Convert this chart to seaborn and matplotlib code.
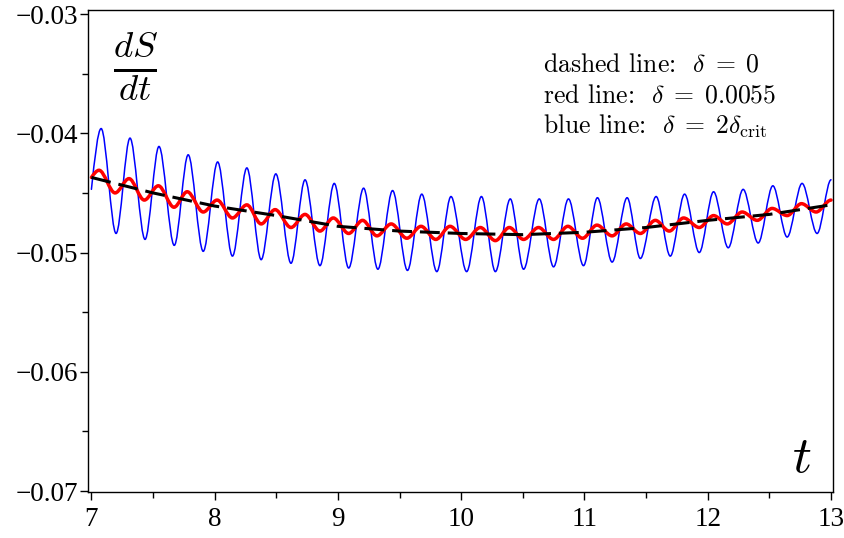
import matplotlib
matplotlib.use('Agg')
import matplotlib.pyplot as plt
from matplotlib.path import Path
from matplotlib.patches import PathPatch
from matplotlib.ticker import FuncFormatter
import seaborn as sns
import pandas as pd

# values
# blue line (delta = 2 delta_crit): start, then alternating peaks / troughs
blue_t = [7.00, 7.079, 7.200, 7.313, 7.435, 7.548, 7.672, 7.785, 7.907, 8.024,
          8.144, 8.261, 8.377, 8.496, 8.619, 8.733, 8.854, 8.970, 9.087, 9.208,
          9.324, 9.443, 9.564, 9.680, 9.802, 9.917, 10.044, 10.164, 10.277, 10.398,
          10.506, 10.633, 10.749, 10.870, 10.992, 11.105, 11.224, 11.346, 11.453, 11.581,
          11.696, 11.812, 11.931, 12.047, 12.166, 12.287, 12.409, 12.528, 12.644, 12.765,
          12.887, 13.00]
blue_y = [-0.0447, -0.0396, -0.0484, -0.0404, -0.0489, -0.0411, -0.0494, -0.0418, -0.0499, -0.0424,
          -0.0503, -0.0429, -0.0506, -0.0434, -0.0509, -0.0439, -0.0511, -0.0442, -0.0513, -0.0446,
          -0.0514, -0.0448, -0.0515, -0.0451, -0.0516, -0.0453, -0.0516, -0.0453, -0.0516, -0.0455,
          -0.0514, -0.0455, -0.0512, -0.0455, -0.0511, -0.0454, -0.0508, -0.0454, -0.0505, -0.0453,
          -0.0503, -0.0451, -0.0500, -0.0449, -0.0496, -0.0447, -0.0492, -0.0444, -0.0487, -0.0442,
          -0.0484, -0.0439]

# red line (delta = 0.0055): start, then alternating peaks / troughs
red_t = [7.00, 7.062, 7.192, 7.305, 7.429, 7.543, 7.670, 7.777, 7.907, 8.020,
         8.144, 8.261, 8.377, 8.490, 8.619, 8.733, 8.854, 8.962, 9.087, 9.200,
         9.316, 9.432, 9.559, 9.674, 9.794, 9.909, 10.036, 10.155, 10.277, 10.390,
         10.506, 10.627, 10.749, 10.865, 10.984, 11.101, 11.224, 11.338, 11.453, 11.575,
         11.688, 11.804, 11.931, 12.047, 12.158, 12.279, 12.401, 12.522, 12.644, 12.760,
         12.879, 13.00]
red_y = [-0.0437, -0.0431, -0.0450, -0.0438, -0.0456, -0.0444, -0.0462, -0.0449, -0.0466, -0.0456,
         -0.0471, -0.0460, -0.0476, -0.0464, -0.0479, -0.0468, -0.0482, -0.0471, -0.0484, -0.0473,
         -0.0486, -0.0476, -0.0488, -0.0478, -0.0489, -0.0478, -0.0489, -0.0479, -0.0490, -0.0479,
         -0.0489, -0.0479, -0.0489, -0.0478, -0.0488, -0.0477, -0.0486, -0.0476, -0.0484, -0.0473,
         -0.0482, -0.0471, -0.0479, -0.0469, -0.0476, -0.0466, -0.0473, -0.0463, -0.0469, -0.0459,
         -0.0466, -0.0456]

# dashed line (delta = 0)
trend_t = [7.0, 7.5, 8.0, 8.5, 9.0, 9.5, 10.0, 10.5, 11.0, 11.5, 12.0, 12.5, 13.0]
trend_y = [-0.0437, -0.0450, -0.0461, -0.0469, -0.0478, -0.0482, -0.0484, -0.0485, -0.0483,
           -0.0479, -0.0473, -0.0468, -0.0460]

x_major = [7, 8, 9, 10, 11, 12, 13]
x_minor = [7.5, 8.5, 9.5, 10.5, 11.5, 12.5]
y_major = [-0.07, -0.06, -0.05, -0.04, -0.03]
y_minor = [-0.065, -0.055, -0.045, -0.035]

legend_lines = [r'dashed line:  $\delta\;=\;0$',
                r'red line:  $\delta\;=\;0.0055$',
                r'blue line:  $\delta\;=\;2\delta_{\mathrm{crit}}$']

sns.set_style('ticks')
plt.rcParams['font.family'] = ['Liberation Serif', 'DejaVu Serif']
plt.rcParams['mathtext.fontset'] = 'cm'
plt.rcParams['text.color'] = 'black'


def wave(ax, t, y, color, lw):
    # smooth curve through the read extrema (flat tangents at each extremum)
    verts = [(t[0], y[0])]
    codes = [Path.MOVETO]
    for i in range(1, len(t)):
        dt = t[i] - t[i - 1]
        if i == 1:
            c1 = (t[0] + dt / 3, y[0] + 0.5 * (y[1] - y[0]))
        else:
            c1 = (t[i - 1] + dt / 3, y[i - 1])
        verts += [c1, (t[i] - dt / 3, y[i]), (t[i], y[i])]
        codes += [Path.CURVE4] * 3
    ax.add_patch(PathPatch(Path(verts, codes), fill=False, edgecolor=color,
                           lw=lw, capstyle='round', joinstyle='round', zorder=2))


fig = plt.figure(figsize=(8.45, 5.38), dpi=100)
ax = fig.add_axes([0.1041, 0.0855, 0.8817, 0.8968])

wave(ax, blue_t, blue_y, '#0000ff', 1.1)
wave(ax, red_t, red_y, '#ff0000', 2.5)

trend_df = pd.DataFrame({'t': trend_t, 'dSdt': trend_y})
sns.lineplot(data=trend_df, x='t', y='dSdt', ax=ax, color='black', lw=2.2,
             dashes=False, zorder=3)
ax.lines[-1].set_dashes((6.5, 2.6))

ax.set_xlim(6.972, 13.016)
ax.set_ylim(-0.07008, -0.02962)
ax.set_xticks(x_major)
ax.set_xticks(x_minor, minor=True)
ax.set_yticks(y_major)
ax.set_yticks(y_minor, minor=True)
ax.yaxis.set_major_formatter(FuncFormatter(lambda v, p: f'{v:.2f}'.replace('-', '\u2212')))
ax.tick_params(which='major', length=6, width=1, direction='out', labelsize=19.5,
               colors='black')
ax.tick_params(axis='x', which='major', pad=5)
ax.tick_params(axis='y', which='major', pad=1)
ax.tick_params(which='minor', length=4, width=1, direction='out', colors='black')
ax.set_xlabel('')
ax.set_ylabel('')
for s in ax.spines.values():
    s.set_visible(True)
    s.set_color('black')
    s.set_linewidth(1.0)

ax.text(0.064, 0.882, r'$\frac{dS}{dt}$', transform=ax.transAxes, fontsize=38,
        ha='center', va='center')
ax.text(0.958, 0.068, r'$t$', transform=ax.transAxes, fontsize=38,
        ha='center', va='center')
for i, line in enumerate(legend_lines):
    ax.text(0.611, 0.885 - 0.064 * i, line, transform=ax.transAxes, fontsize=18.5,
            family='cmr10', ha='left', va='center')

fig.savefig('out.png', dpi=100)
